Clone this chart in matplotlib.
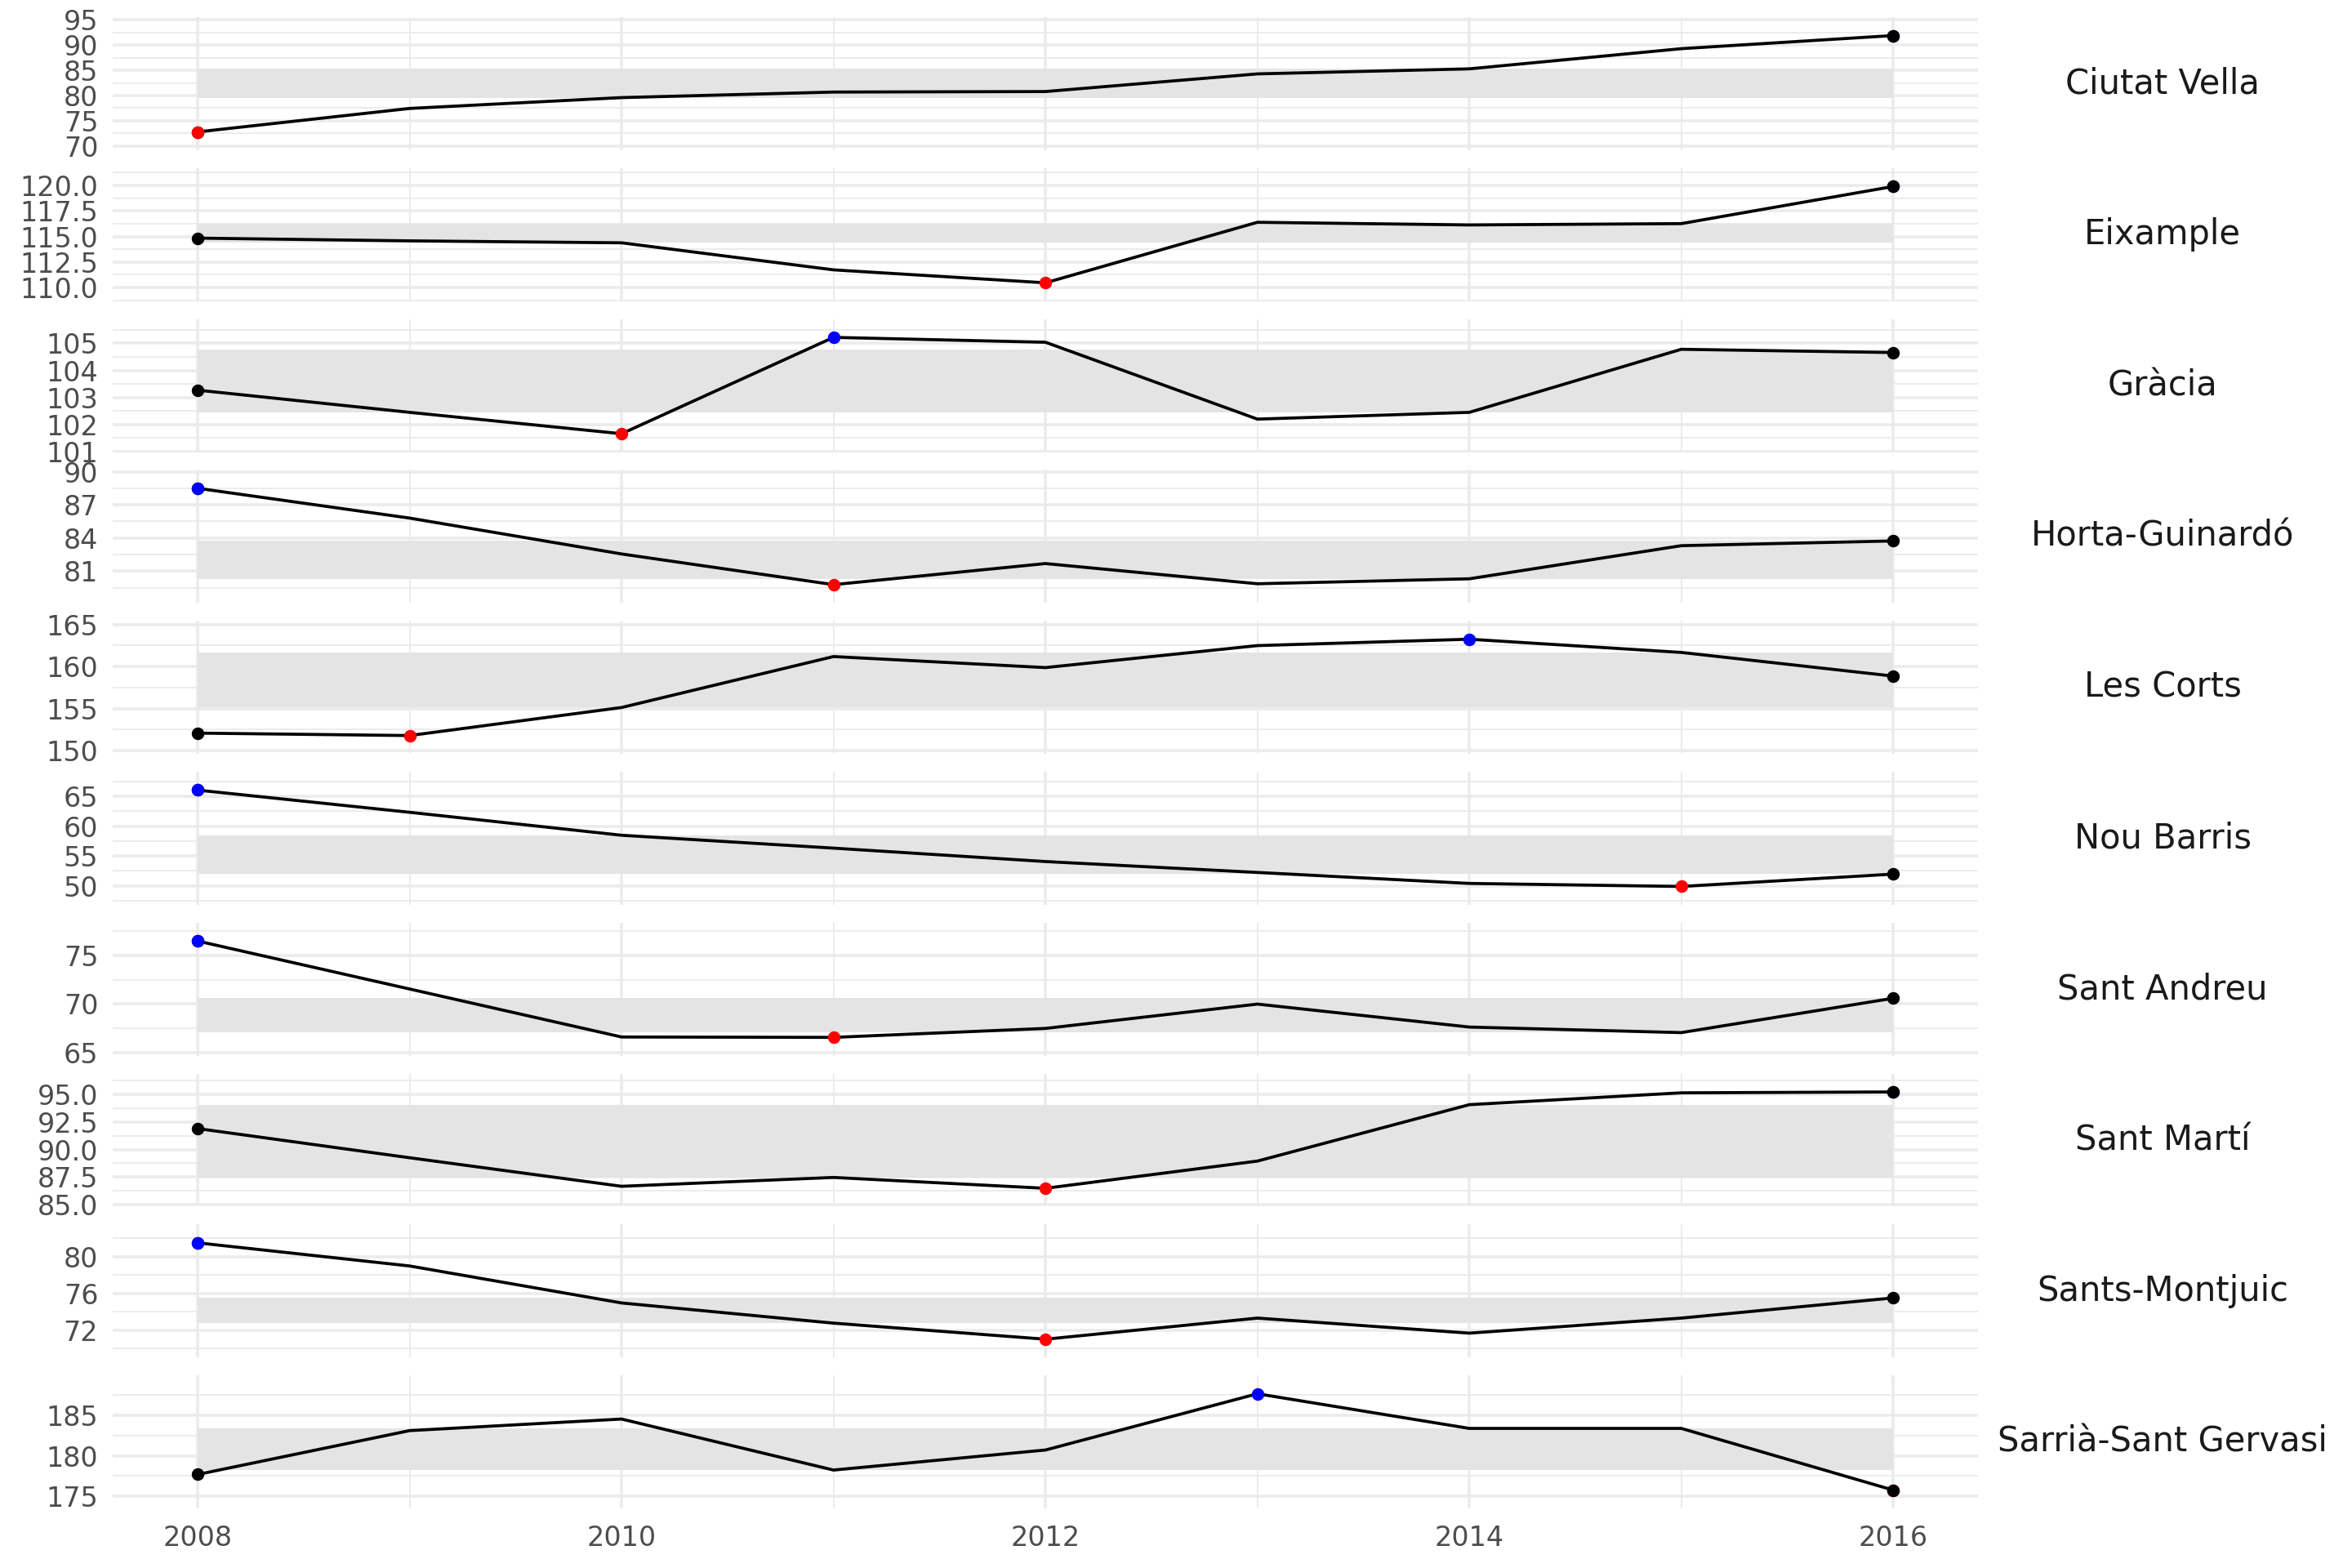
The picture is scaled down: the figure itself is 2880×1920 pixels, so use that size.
import matplotlib

matplotlib.use("Agg")
import matplotlib.pyplot as plt
from matplotlib.ticker import MultipleLocator, FormatStrFormatter
import numpy as np

years = [2008, 2009, 2010, 2011, 2012, 2013, 2014, 2015, 2016]

districts = [
    "Ciutat Vella", "Eixample", "Gràcia", "Horta-Guinardó", "Les Corts",
    "Nou Barris", "Sant Andreu", "Sant Martí", "Sants-Montjuic",
    "Sarrià-Sant Gervasi",
]

ciutat_vella = [72.8, 77.45, 79.6, 80.7, 80.8, 84.3, 85.3, 89.3, 91.9]
eixample = [114.84, 114.57, 114.38, 111.73, 110.46, 116.39, 116.13, 116.26, 119.9]
gracia = [103.27, 102.45, 101.66, 105.22, 105.04, 102.2, 102.45, 104.78, 104.66]
horta_guinardo = [88.5, 85.8, 82.55, 79.77, 81.68, 79.85, 80.3, 83.3, 83.73]
les_corts = [152.09, 151.8, 155.13, 161.18, 159.87, 162.48, 163.24, 161.67, 158.86]
nou_barris = [66.06, 62.34, 58.49, 56.33, 54.08, 52.25, 50.41, 49.9, 51.97]
sant_andreu = [76.48, 71.55, 66.62, 66.58, 67.5, 70.0, 67.64, 67.07, 70.6]
sant_marti = [91.89, 89.25, 86.67, 87.47, 86.49, 88.95, 94.05, 95.12, 95.2]
sants_montjuic = [81.5, 78.98, 74.95, 72.75, 71.0, 73.3, 71.66, 73.3, 75.5]
sarria = [177.7, 183.08, 184.5, 178.24, 180.7, 187.6, 183.35, 183.35, 175.78]

series = [ciutat_vella, eixample, gracia, horta_guinardo, les_corts,
          nou_barris, sant_andreu, sant_marti, sants_montjuic, sarria]

# pas de les marques de l'eix y de cada panell
y_steps = [5, 2.5, 1, 3, 5, 5, 5, 2.5, 4, 5]

GRID = "#ebebeb"
MS = 2.7

fig, axes = plt.subplots(len(districts), 1, figsize=(9.6, 6.4), dpi=300, sharex=True)
fig.subplots_adjust(left=0.048, right=0.841, top=0.989, bottom=0.038, hspace=0.135)

for ax, name, vals, step in zip(axes, districts, series, y_steps):
    vals = np.array(vals)
    q1, q3 = np.percentile(vals, [25, 75])  # banda = rang interquartílic

    ax.fill_between(years, q1, q3, color="#e4e4e4", linewidth=0, zorder=1)
    ax.plot(years, vals, color="black", linewidth=0.9, zorder=2)

    i_min = int(np.argmin(vals))
    i_max = int(np.argmax(vals))
    ax.plot(years[0], vals[0], "o", color="black", markersize=MS, zorder=3)
    ax.plot(years[i_min], vals[i_min], "o", color="red", markersize=MS, zorder=3)
    ax.plot(years[i_max], vals[i_max], "o", color="blue", markersize=MS, zorder=3)
    ax.plot(years[-1], vals[-1], "o", color="black", markersize=MS, zorder=3)

    ax.set_xlim(2007.6, 2016.4)
    ax.margins(y=0.19)

    ax.yaxis.set_major_locator(MultipleLocator(step))
    ax.yaxis.set_minor_locator(MultipleLocator(step / 2))
    if step != int(step):
        ax.yaxis.set_major_formatter(FormatStrFormatter("%.1f"))
    else:
        ax.yaxis.set_major_formatter(FormatStrFormatter("%d"))
    ax.xaxis.set_major_locator(MultipleLocator(2))
    ax.xaxis.set_minor_locator(MultipleLocator(1))

    ax.grid(which="major", color=GRID, linewidth=0.85, zorder=0)
    ax.grid(which="minor", color=GRID, linewidth=0.45, zorder=0)
    ax.set_axisbelow(True)

    for s in ax.spines.values():
        s.set_visible(False)
    ax.tick_params(which="both", length=0)
    ax.tick_params(axis="y", labelsize=8, labelcolor="#4d4d4d", pad=4.3)
    ax.tick_params(axis="x", labelsize=8, labelcolor="#4d4d4d", pad=4.8)

    ax.text(1.099, 0.5, name, transform=ax.transAxes, ha="center", va="center",
            fontsize=10, color="#1a1a1a")

plt.savefig("out.png", dpi=300)
plt.close()
